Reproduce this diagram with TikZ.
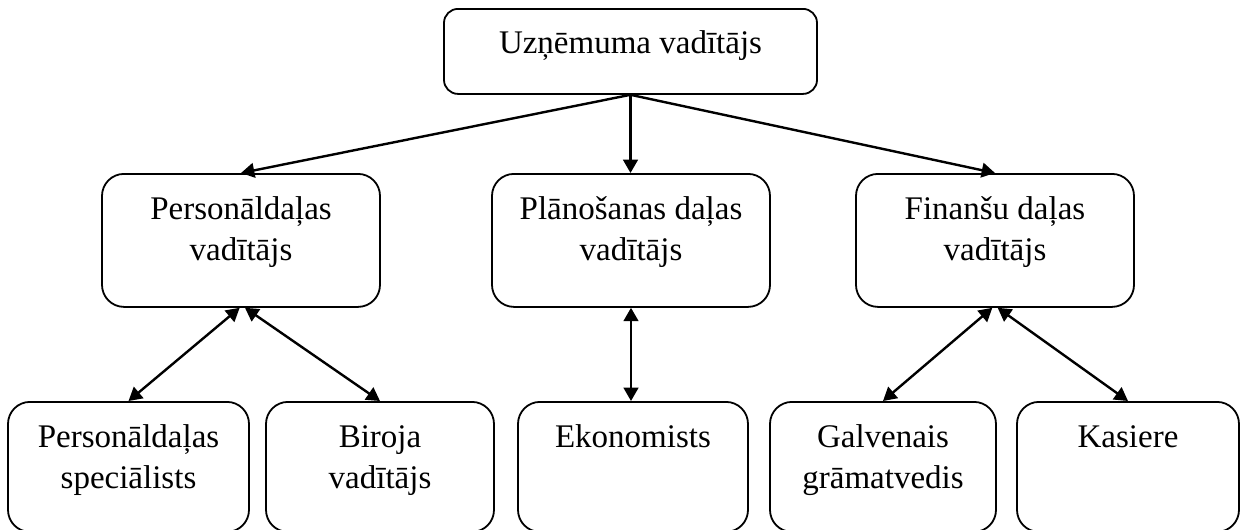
\documentclass[tikz,border=0pt]{standalone}
\usepackage{fontspec}
\setmainfont{Liberation Serif}
\usetikzlibrary{arrows.meta}
\begin{document}
\begin{tikzpicture}[x=0.75pt,y=-0.75pt,
  box/.style={draw, line width=1.35pt, rounded corners=16.5pt, inner sep=0pt,
    align=center, anchor=north, fill=white,
    font=\fontsize{24.75pt}{30.75pt}\selectfont},
  % text height/depth are measured from the baseline of the last line
  headbox/.style={box, rounded corners=10.5pt, text height=33.75pt, text depth=30pt},
  midbox/.style={box, minimum width=208.5pt, text height=65.25pt, text depth=34.5pt},
  lowbox/.style={box, text height=65.25pt, text depth=32.25pt},
  lowboxone/.style={box, text height=34.5pt, text depth=63pt},
  tip/.tip={Triangle[length=10pt,width=11pt]},
  link/.style={line width=1.8pt, -tip},
  both/.style={line width=1.8pt, tip-tip}]
\useasboundingbox (0,0) rectangle (1247,529);
\fill[white] (0,0) rectangle (1247,529);
\clip (0,0) rectangle (1247,529);

% top level
\node[headbox, minimum width=279.75pt] (ceo) at (630.5,8) {Uzņēmuma vadītājs};

% department heads
\node[midbox] (hr)   at (241,173) {Personāldaļas\\vadītājs};
\node[midbox] (plan) at (631,173) {Plānošanas daļas\\vadītājs};
\node[midbox] (fin)  at (995,173) {Finanšu daļas\\vadītājs};

% staff
\node[lowbox, minimum width=180.75pt]    (hrs)  at (128.5,401) {Personāldaļas\\speciālists};
\node[lowbox, minimum width=171pt]       (off)  at (380,401)   {Biroja\\vadītājs};
\node[lowboxone, minimum width=172.5pt]  (eco)  at (633,401)   {Ekonomists};
\node[lowbox, minimum width=169.5pt]     (acc)  at (883,401)   {Galvenais\\grāmatvedis};
\node[lowboxone, minimum width=166.5pt]  (cash) at (1128,401)  {Kasiere};

% connectors
\draw[link] (ceo.south) -- (hr.north);
\draw[link] (ceo.south) -- (ceo.south |- plan.north);
\draw[link] (ceo.south) -- (fin.north);
\draw[both] ([xshift=-1pt]hr.south) -- (hrs.north);
\draw[both] ([xshift=3pt]hr.south) -- (off.north);
\draw[both] (plan.south) -- (plan.south |- eco.north);
\draw[both] ([xshift=-2pt]fin.south) -- (acc.north);
\draw[both] ([xshift=2pt]fin.south) -- (cash.north);
\end{tikzpicture}
\end{document}
